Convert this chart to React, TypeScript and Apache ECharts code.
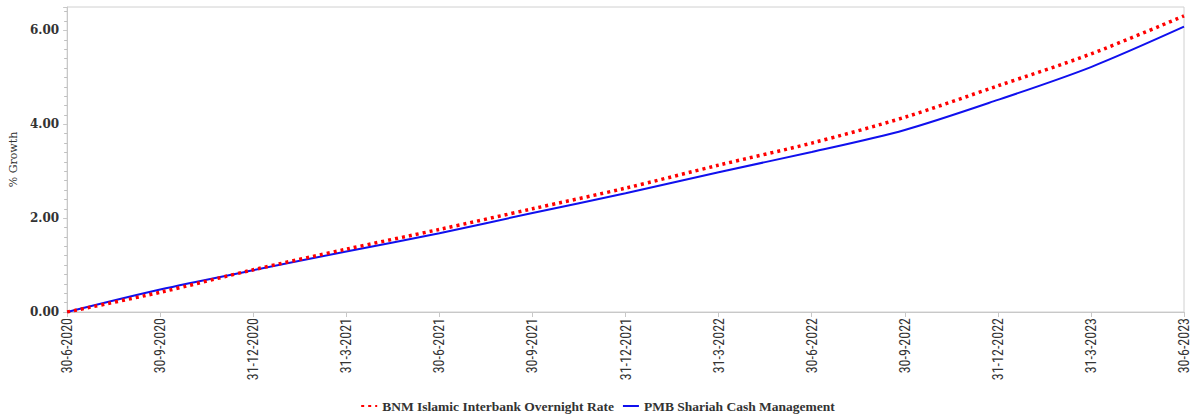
import React, { useEffect, useRef } from "react";
import * as echarts from "echarts";

const categories = [
  "30-6-2020", "30-9-2020", "31-12-2020", "31-3-2021", "30-6-2021", "30-9-2021",
  "31-12-2021", "31-3-2022", "30-6-2022", "30-9-2022", "31-12-2022", "31-3-2023", "30-6-2023",
];
const bnmValues = [0, 0.42, 0.9, 1.34, 1.76, 2.2, 2.64, 3.13, 3.6, 4.15, 4.82, 5.5, 6.31];
const pmbValues = [0, 0.48, 0.89, 1.29, 1.68, 2.11, 2.53, 2.98, 3.41, 3.88, 4.52, 5.22, 6.08];
const seriesNames = ["BNM Islamic Interbank Overnight Rate", "PMB Shariah Cash Management"];

export default function App() {
  const ref = useRef<HTMLDivElement>(null);
  useEffect(() => {
    if (!ref.current) return;
    const chart = echarts.init(ref.current, undefined, { renderer: "svg" });
    chart.setOption({
      animation: false,
      backgroundColor: "#ffffff",
      grid: {
        left: 60,
        right: 11,
        top: 7,
        bottom: 107,
        show: true,
        borderColor: "#d0d0d0",
        borderWidth: 1,
      },
      legend: {
        bottom: 1,
        left: "center",
        itemWidth: 16,
        itemHeight: 8,
        itemGap: 8,
        itemStyle: { opacity: 0 },
        textStyle: {
          fontFamily: "Liberation Serif, serif",
          fontWeight: "bold",
          fontSize: 13.5,
          color: "#333",
        },
        data: seriesNames,
      },
      xAxis: {
        type: "category",
        data: categories,
        boundaryGap: false,
        axisLine: { lineStyle: { color: "#c8c8c8" } },
        axisTick: { show: true, length: 5, lineStyle: { color: "#c8c8c8" } },
        axisLabel: {
          rotate: 90,
          interval: 0,
          margin: 6,
          fontSize: 14,
          color: "#333",
          fontFamily: "Liberation Sans Narrow, Roboto Condensed, Arial Narrow, Liberation Sans, sans-serif",
        },
        splitLine: { show: false },
      },
      yAxis: {
        type: "value",
        min: 0,
        max: 6.5,
        interval: 2,
        name: "% Growth",
        nameLocation: "middle",
        nameRotate: 90,
        nameGap: 44,
        nameTextStyle: { fontFamily: "DejaVu Serif, serif", fontSize: 11, color: "#333" },
        axisLine: { show: true, lineStyle: { color: "#c8c8c8" } },
        axisTick: { show: true, length: 4, lineStyle: { color: "#c8c8c8" } },
        minorTick: { show: true, splitNumber: 10, length: 3, lineStyle: { color: "#c0c0c0" } },
        axisLabel: {
          showMaxLabel: false,
          formatter: (v: number) => v.toFixed(2),
          fontFamily: "DejaVu Serif, serif",
          fontWeight: "bold",
          fontSize: 12,
          color: "#333",
          margin: 8,
        },
        splitLine: { show: false },
      },
      series: [
        {
          name: seriesNames[0],
          type: "line",
          data: bnmValues,
          smooth: 0.3,
          showSymbol: false,
          symbol: "none",
          z: 3,
          itemStyle: { color: "#ff0000" },
          lineStyle: { color: "#ff0000", width: 3.5, type: [3, 4], cap: "butt" },
        },
        {
          name: seriesNames[1],
          type: "line",
          data: pmbValues,
          smooth: 0.3,
          showSymbol: false,
          symbol: "none",
          z: 2,
          itemStyle: { color: "#1010ee" },
          lineStyle: { color: "#1010ee", width: 2 },
        },
      ],
    });
    return () => chart.dispose();
  }, []);
  return (
    <div
      ref={ref}
      style={{ position: "absolute", left: 0, top: 0, width: 1195, height: 419 }}
    />
  );
}
